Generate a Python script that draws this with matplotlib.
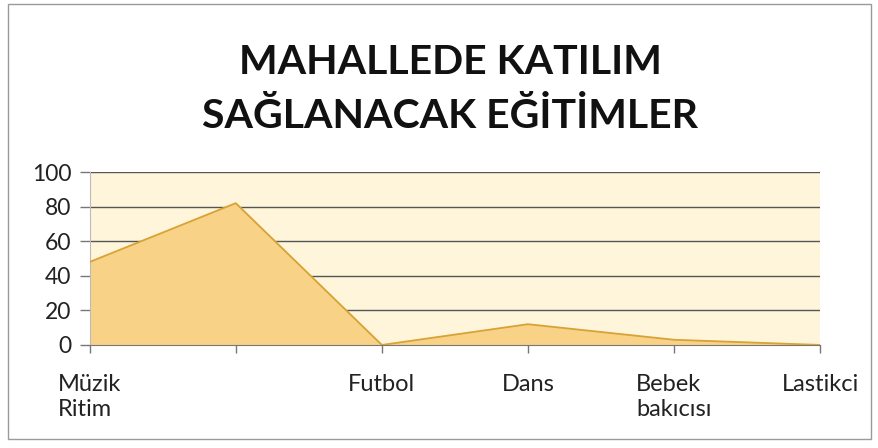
import matplotlib
matplotlib.use("Agg")
import matplotlib.pyplot as plt
from matplotlib.patches import Rectangle

categories = ["Müzik\nRitim", "", "Futbol", "Dans", "Bebek\nbakıcısı", "Lastikci"]
values = [48, 82, 0, 12, 3, 0]
yticks = [0, 20, 40, 60, 80, 100]
title = "MAHALLEDE KATILIM\nSAĞLANACAK EĞİTİMLER"

plt.rcParams['font.family'] = ['Lato', 'DejaVu Sans']

fig = plt.figure(figsize=(8.79, 4.48), dpi=100)
fig.patch.set_facecolor("white")
fig.patches.append(Rectangle((0.009, 0.02), 0.982, 0.97, transform=fig.transFigure,
                             fill=False, edgecolor="#9a9a9a", linewidth=1.0))

ax = fig.add_axes([0.102, 0.23, 0.831, 0.386])
ax.set_facecolor("#FEF5DA")
x = list(range(len(categories)))
ax.fill_between(x, values, 0, color="#F8D387", zorder=2)
ax.plot(x, values, color="#D9A237", linewidth=1.3, zorder=3)

ax.set_xlim(0, len(categories) - 1)
ax.set_ylim(0, 100)
ax.set_yticks(yticks)
ax.set_xticks(x)
ax.set_xticklabels(categories, fontsize=17, color="#222222", linespacing=1.25,
                   multialignment="left")
ax.set_yticklabels([str(v) for v in yticks], fontsize=16.5, color="#222222")
ax.yaxis.grid(True, color="#555555", linewidth=1.0, zorder=1)
ax.set_axisbelow(True)
ax.tick_params(axis="y", length=7, width=1, color="#777777", pad=6)
ax.tick_params(axis="x", length=6, width=1, color="#777777", pad=15)
for s in ["top", "right"]:
    ax.spines[s].set_visible(False)
ax.spines["left"].set_color("#bbbbbb")
ax.spines["bottom"].set_color("#777777")

fig.text(0.512, 0.80, title, ha="center", va="center", fontsize=29.5,
         fontweight="bold", color="#111111", linespacing=1.55)

fig.savefig("out.png", dpi=100)
